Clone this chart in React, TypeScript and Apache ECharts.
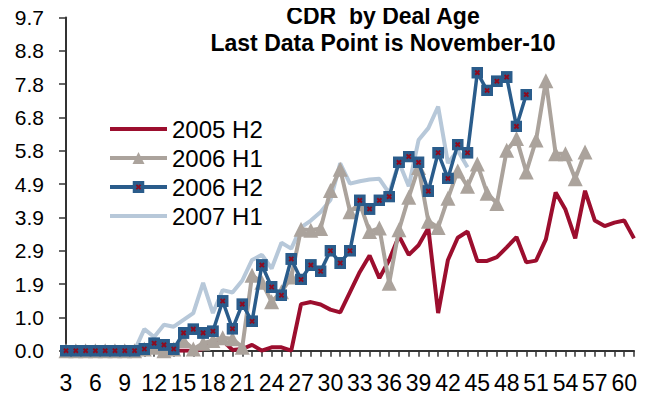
import React, { useEffect, useRef } from "react";
import * as echarts from "echarts";

const ages = [
  "3", "4", "5", "6", "7", "8", "9", "10", "11", "12", "13", "14", "15", "16", "17", "18", "19", "20",
  "21", "22", "23", "24", "25", "26", "27", "28", "29", "30", "31", "32", "33", "34", "35", "36", "37",
  "38", "39", "40", "41", "42", "43", "44", "45", "46", "47", "48", "49", "50", "51", "52", "53", "54",
  "55", "56", "57", "58", "59", "60", "61",
];

const s2005H2 = [
  0, 0, 0, 0, 0, 0, 0, 0, 0, 0, 0, 0, 0, 0,
  0.05, 0.25, 0.3, 0.02, 0.05, 0.17, 0.0, 0.1, 0.1, 0.0,
  1.36, 1.42, 1.35, 1.2, 1.12, 1.71, 2.3, 2.78, 2.12, 2.65,
  3.35, 2.8, 3.08, 3.58, 1.1, 2.65, 3.3, 3.48, 2.62, 2.62,
  2.73, 3.02, 3.32, 2.58, 2.63, 3.25, 4.62, 4.12, 3.28, 4.67,
  3.8, 3.64, 3.74, 3.8, 3.28,
];

const s2006H1 = [
  0, 0, 0, 0, 0, 0, 0, 0,
  0.05, 0.1, 0.0, 0.05, 0.3, 0.05, 0.22, 0.3, 0.38, 0.35,
  0.1, 2.2, 2.0, 1.43, 1.72, 2.15, 3.55, 3.52, 3.57, 4.68,
  5.3, 4.06, 4.3, 3.48, 3.58, 1.97, 3.53, 4.48, 5.35, 3.78,
  3.6, 4.45, 5.25, 4.8, 5.45, 4.6, 4.3, 5.85, 6.2, 5.22,
  6.15, 7.88, 5.75, 5.75, 5.02, 5.8,
];

const s2006H2 = [
  0, 0, 0, 0, 0, 0, 0, 0,
  0.05, 0.22, 0.17, 0.05, 0.52, 0.63, 0.52, 0.57, 1.45, 0.64,
  1.36, 0.86, 2.5, 1.86, 1.62, 2.68, 2.08, 2.5, 2.32, 2.92,
  2.56, 2.92, 4.39, 4.14, 4.39, 4.5, 5.5, 5.67, 5.5, 4.66,
  5.78, 5.03, 6.02, 5.78, 8.12, 7.6, 7.87, 7.99, 6.55, 7.48,
];

const s2007H1 = [
  0, 0, 0, 0, 0, 0, 0, 0,
  0.63, 0.4, 0.76, 0.7, 0.9, 1.1, 1.98, 1.1, 1.77, 1.7,
  2.05, 2.65, 2.8, 2.4, 3.15, 2.98, 3.6, 3.8, 4.05, 4.4,
  5.47, 4.88, 4.95, 5.0, 5.02, 4.6, 5.5, 4.8, 6.15, 6.5,
  7.13, 5.48, 5.85, 5.36,
];

const yTickLabels = ["0.0", "1.0", "1.9", "2.9", "3.9", "4.9", "5.8", "6.8", "7.8", "8.8", "9.7"];
const yStep = 0.973;

const titleLines = ["CDR  by Deal Age", "Last Data Point is November-10"];
const seriesNames = ["2005 H2", "2006 H1", "2006 H2", "2007 H1"];

const FONT = "'Liberation Sans', Arial, Helvetica, sans-serif";

const markerSvg =
  '<svg xmlns="http://www.w3.org/2000/svg" width="20" height="20" viewBox="0 0 20 20">' +
  '<rect width="20" height="20" fill="#2A5C8B"/>' +
  '<path d="M6.5 6.5L13.5 13.5M13.5 6.5L6.5 13.5" stroke="#8E0B1F" stroke-width="3.2"/></svg>';
const markerImg = "image://data:image/svg+xml;charset=utf-8," + encodeURIComponent(markerSvg);
const emptySvg = '<svg xmlns="http://www.w3.org/2000/svg" width="2" height="2"></svg>';
const emptyImg = "image://data:image/svg+xml;charset=utf-8," + encodeURIComponent(emptySvg);

export default function App() {
  const ref = useRef<HTMLDivElement>(null);

  useEffect(() => {
    if (!ref.current) return;
    const chart = echarts.init(ref.current, undefined, { renderer: "svg" });
    chart.setOption({
      animation: false,
      backgroundColor: "#ffffff",
      textStyle: { fontFamily: FONT },
      graphic: [
        {
          type: "text",
          x: 383,
          y: 16,
          style: {
            text: titleLines[0],
            textAlign: "center",
            textVerticalAlign: "middle",
            font: `bold 23px ${FONT}`,
            fill: "#000",
          },
        },
        {
          type: "text",
          x: 383,
          y: 43,
          style: {
            text: titleLines[1],
            textAlign: "center",
            textVerticalAlign: "middle",
            font: `bold 23px ${FONT}`,
            fill: "#000",
          },
        },
      ],
      legend: {
        data: seriesNames,
        orient: "vertical",
        left: 108,
        top: 117,
        padding: 0,
        itemWidth: 57,
        itemHeight: 15,
        itemGap: 5,
        lineStyle: { width: 4 },
        textStyle: { fontSize: 24, color: "#000", fontFamily: FONT },
      },
      grid: { left: 66, right: 16, top: 17.5, bottom: 49.3, containLabel: false },
      xAxis: {
        type: "category",
        data: ages,
        boundaryGap: false,
        axisLine: { show: true, lineStyle: { color: "#333", width: 2 } },
        axisTick: { show: true, interval: 0, length: 6, lineStyle: { color: "#333", width: 1.5 } },
        axisLabel: { interval: 2, fontSize: 23, color: "#000", margin: 21, fontFamily: FONT },
        splitLine: { show: false },
      },
      yAxis: {
        type: "value",
        min: 0,
        max: yStep * 10,
        interval: yStep,
        axisLine: { show: true, lineStyle: { color: "#333", width: 2 } },
        axisTick: { show: true, length: 7, lineStyle: { color: "#333", width: 1.5 } },
        axisLabel: {
          fontSize: 21,
          color: "#000",
          margin: 22,
          fontFamily: FONT,
          formatter: (v: number) => yTickLabels[Math.round(v / yStep)] ?? "",
        },
        splitLine: { show: false },
      },
      series: [
        {
          name: "2007 H1",
          type: "line",
          data: s2007H1,
          symbol: emptyImg,
          showSymbol: false,
          lineStyle: { color: "#B7C8D9", width: 4 },
          itemStyle: { color: "#B7C8D9" },
          z: 1,
        },
        {
          name: "2005 H2",
          type: "line",
          data: s2005H2,
          symbol: emptyImg,
          showSymbol: false,
          lineStyle: { color: "#9C0E2E", width: 4 },
          itemStyle: { color: "#9C0E2E" },
          z: 2,
        },
        {
          name: "2006 H1",
          type: "line",
          data: s2006H1,
          symbol: "triangle",
          symbolSize: 15,
          showAllSymbol: true,
          lineStyle: { color: "#ABA39C", width: 4 },
          itemStyle: { color: "#ABA39C" },
          z: 3,
        },
        {
          name: "2006 H2",
          type: "line",
          data: s2006H2,
          symbol: markerImg,
          symbolSize: 12,
          showAllSymbol: true,
          lineStyle: { color: "#2A5C8B", width: 3.5 },
          itemStyle: { color: "#2A5C8B" },
          z: 4,
        },
      ],
    });
    return () => chart.dispose();
  }, []);

  return <div ref={ref} style={{ width: 650, height: 400, margin: -8 }} />;
}
